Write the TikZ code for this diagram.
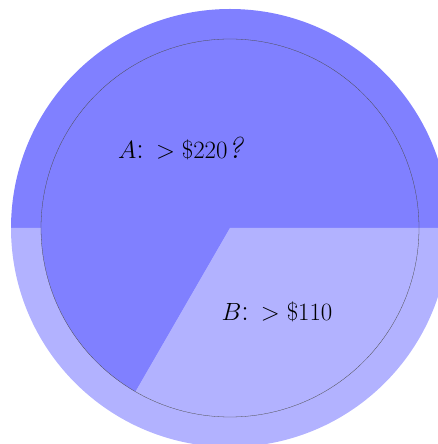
\documentclass[tikz,border=0pt]{standalone}
\begin{document}
\begin{tikzpicture}[x=1pt,y=1pt,
  darkfill/.style={fill=blue!50},
  lightfill/.style={fill=blue!30},
  lab/.style={font=\fontsize{30}{34}\selectfont}]
\useasboundingbox (0,0) rectangle (438,444);
\clip (0,0) rectangle (438,444);
\coordinate (c) at (230,216);
% outer ring halves
\fill[darkfill] (c) -- ++(0:219) arc[start angle=0,end angle=180,radius=219] -- cycle;
\fill[lightfill] (c) -- ++(180:219) arc[start angle=180,end angle=360,radius=219] -- cycle;
% inner pie
\fill[darkfill] (c) -- ++(0:189) arc[start angle=0,end angle=240,radius=189] -- cycle;
\fill[lightfill] (c) -- ++(240:189) arc[start angle=240,end angle=360,radius=189] -- cycle;
\draw[line width=0.3pt, black!70] (c) circle[radius=189];
\node[lab] (a) at (181,296) {$A$: $>\$220$\textit{?}};
\node[lab] (b) at (277,132) {$B$: $>\$110$};
\end{tikzpicture}
\end{document}
